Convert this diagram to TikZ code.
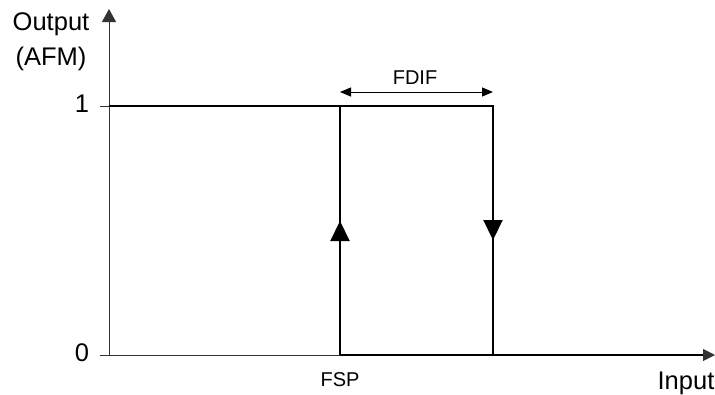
\documentclass[tikz,border=0pt]{standalone}
\usepackage{fontspec}
\setmainfont{Liberation Sans}
\usetikzlibrary{arrows.meta}
\begin{document}
\begin{tikzpicture}[x=1pt,y=-1pt,
  axis/.style={line width=1pt,black!80},
  curve/.style={line width=2.2pt,black},
  bigtxt/.style={font=\fontsize{25.5}{30}\selectfont,inner sep=0pt},
  smalltxt/.style={font=\fontsize{20}{24}\selectfont,inner sep=0pt},
  mid/.style={-{Triangle[length=20pt,width=19pt]}}]
\useasboundingbox (0,0) rectangle (715,394);
% coordinates
\coordinate (O) at (109,355);
\coordinate (ytop) at (109,9);
\coordinate (xend) at (715,355);
\coordinate (t1) at (100,106);
\coordinate (one) at (109,106);
\coordinate (t0) at (100,355);
\coordinate (fsp) at (340,355);
\coordinate (fsp1) at (340,106);
\coordinate (fd1) at (493,106);
\coordinate (fd0) at (493,355);
\coordinate (upmid) at (340,221);
\coordinate (dnmid) at (493,240);
\coordinate (dl) at (340,92);
\coordinate (dr) at (493,92);
% axes
\draw[axis,-{Triangle[length=13pt,width=14pt]}] (O) -- (ytop);
\draw[axis,-{Triangle[length=12pt,width=12pt]}] (t0) -- (xend);
\draw[axis] (t1) -- (one);
% hysteresis
\draw[curve] (one) -- (fd1) -- (fd0);
\draw[curve] (fsp) -- (fsp1);
\draw[curve] (fsp) -- (703,355);
\draw[curve,mid] (fsp) -- (upmid);
\draw[curve,mid] (fd1) -- (dnmid);
% FDIF
\draw[line width=1pt,{Triangle[length=11pt,width=9pt]}-{Triangle[length=11pt,width=9pt]}] (dl) -- (dr);
% labels
\node[bigtxt] (lout) at (51,24) {Output};
\node[bigtxt] (lafm) at (51,59) {(AFM)};
\node[bigtxt] (l1) at (82,104) {1};
\node[bigtxt] (l0) at (82,353) {0};
\node[smalltxt] (lfdif) at (415,78) {FDIF};
\node[smalltxt] (lfsp) at (340,380) {FSP};
\node[bigtxt] (lin) at (686,383) {Input};
\end{tikzpicture}
\end{document}
